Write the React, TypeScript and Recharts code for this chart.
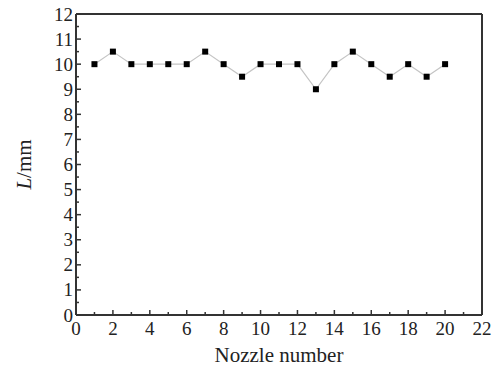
import React from "react";
import {
	LineChart,
	Line,
	XAxis,
	YAxis,
	ReferenceLine,
} from "recharts";

const nozzles = [1, 2, 3, 4, 5, 6, 7, 8, 9, 10, 11, 12, 13, 14, 15, 16, 17, 18, 19, 20];
const lengths = [10, 10.5, 10, 10, 10, 10, 10.5, 10, 9.5, 10, 10, 10, 9, 10, 10.5, 10, 9.5, 10, 9.5, 10];

// every value gets a tick, only the majors get a label
const xTicks = [0, 1, 2, 3, 4, 5, 6, 7, 8, 9, 10, 11, 12, 13, 14, 15, 16, 17, 18, 19, 20, 21, 22];
const yTicks = [
	0, 0.5, 1, 1.5, 2, 2.5, 3, 3.5, 4, 4.5, 5, 5.5, 6, 6.5, 7, 7.5, 8, 8.5, 9, 9.5, 10, 10.5, 11, 11.5, 12,
];

const data = nozzles.map((n, i) => ({ nozzle: n, length: lengths[i] }));

const font = '"Liberation Serif", "Times New Roman", serif';
const axisColor = "#333";

function XTick(props: any) {
	const { x, y, payload } = props;
	const major = payload.value % 2 === 0;
	const axisY = y - 4;
	return (
		<g>
			<line x1={x} x2={x} y1={axisY} y2={axisY - (major ? 5 : 3)} stroke={axisColor} strokeWidth={1.5} />
			{major && (
				<text x={x} y={axisY + 20} textAnchor="middle" fontFamily={font} fontSize={19} fill="#222">
					{payload.value}
				</text>
			)}
		</g>
	);
}

function YTick(props: any) {
	const { x, y, payload } = props;
	const major = Number.isInteger(payload.value);
	const axisX = x + 4;
	return (
		<g>
			<line x1={axisX} x2={axisX + (major ? 5 : 3)} y1={y} y2={y} stroke={axisColor} strokeWidth={1.5} />
			{major && (
				<text x={axisX - 3} y={y + 6.5} textAnchor="end" fontFamily={font} fontSize={19} fill="#222">
					{payload.value}
				</text>
			)}
		</g>
	);
}

function SquareDot(props: any) {
	const { cx, cy } = props;
	if (cx == null || cy == null) return null;
	return <rect x={cx - 3} y={cy - 3} width={6} height={6} fill="#000" />;
}

export default function App() {
	return (
		<div style={{ position: "absolute", left: 0, top: 0 }}>
			<LineChart width={495} height={367} data={data} margin={{ top: 14, right: 13, left: 0, bottom: 0 }}>
				<XAxis
					dataKey="nozzle"
					type="number"
					domain={[0, 22]}
					ticks={xTicks}
					interval={0}
					tickSize={0}
					tickMargin={4}
					tickLine={false}
					tick={<XTick />}
					height={52}
					stroke={axisColor}
					strokeWidth={2}
					label={{
						content: (p: any) => (
							<text
								x={p.viewBox.x + p.viewBox.width / 2}
								y={p.viewBox.y + 47}
								textAnchor="middle"
								fontFamily={font}
								fontSize={21}
								fill="#222"
							>
								Nozzle number
							</text>
						),
					}}
				/>
				<YAxis
					type="number"
					domain={[0, 12]}
					ticks={yTicks}
					interval={0}
					tickSize={0}
					tickMargin={4}
					tickLine={false}
					tick={<YTick />}
					width={76}
					stroke={axisColor}
					strokeWidth={2}
					label={{
						content: (p: any) => {
							const cx = p.viewBox.x + 31;
							const cy = p.viewBox.y + p.viewBox.height / 2;
							return (
								<text
									x={cx}
									y={cy}
									transform={`rotate(-90 ${cx} ${cy})`}
									textAnchor="middle"
									fontFamily={font}
									fontSize={21}
									fill="#222"
								>
									<tspan fontStyle="italic">L</tspan>
									<tspan>/mm</tspan>
								</text>
							);
						},
					}}
				/>
				<ReferenceLine y={12} stroke={axisColor} strokeWidth={2} />
				<ReferenceLine x={22} stroke={axisColor} strokeWidth={2} />
				<Line
					dataKey="length"
					stroke="#c4c4c4"
					strokeWidth={1.2}
					dot={<SquareDot />}
					activeDot={false}
					isAnimationActive={false}
				/>
			</LineChart>
		</div>
	);
}
